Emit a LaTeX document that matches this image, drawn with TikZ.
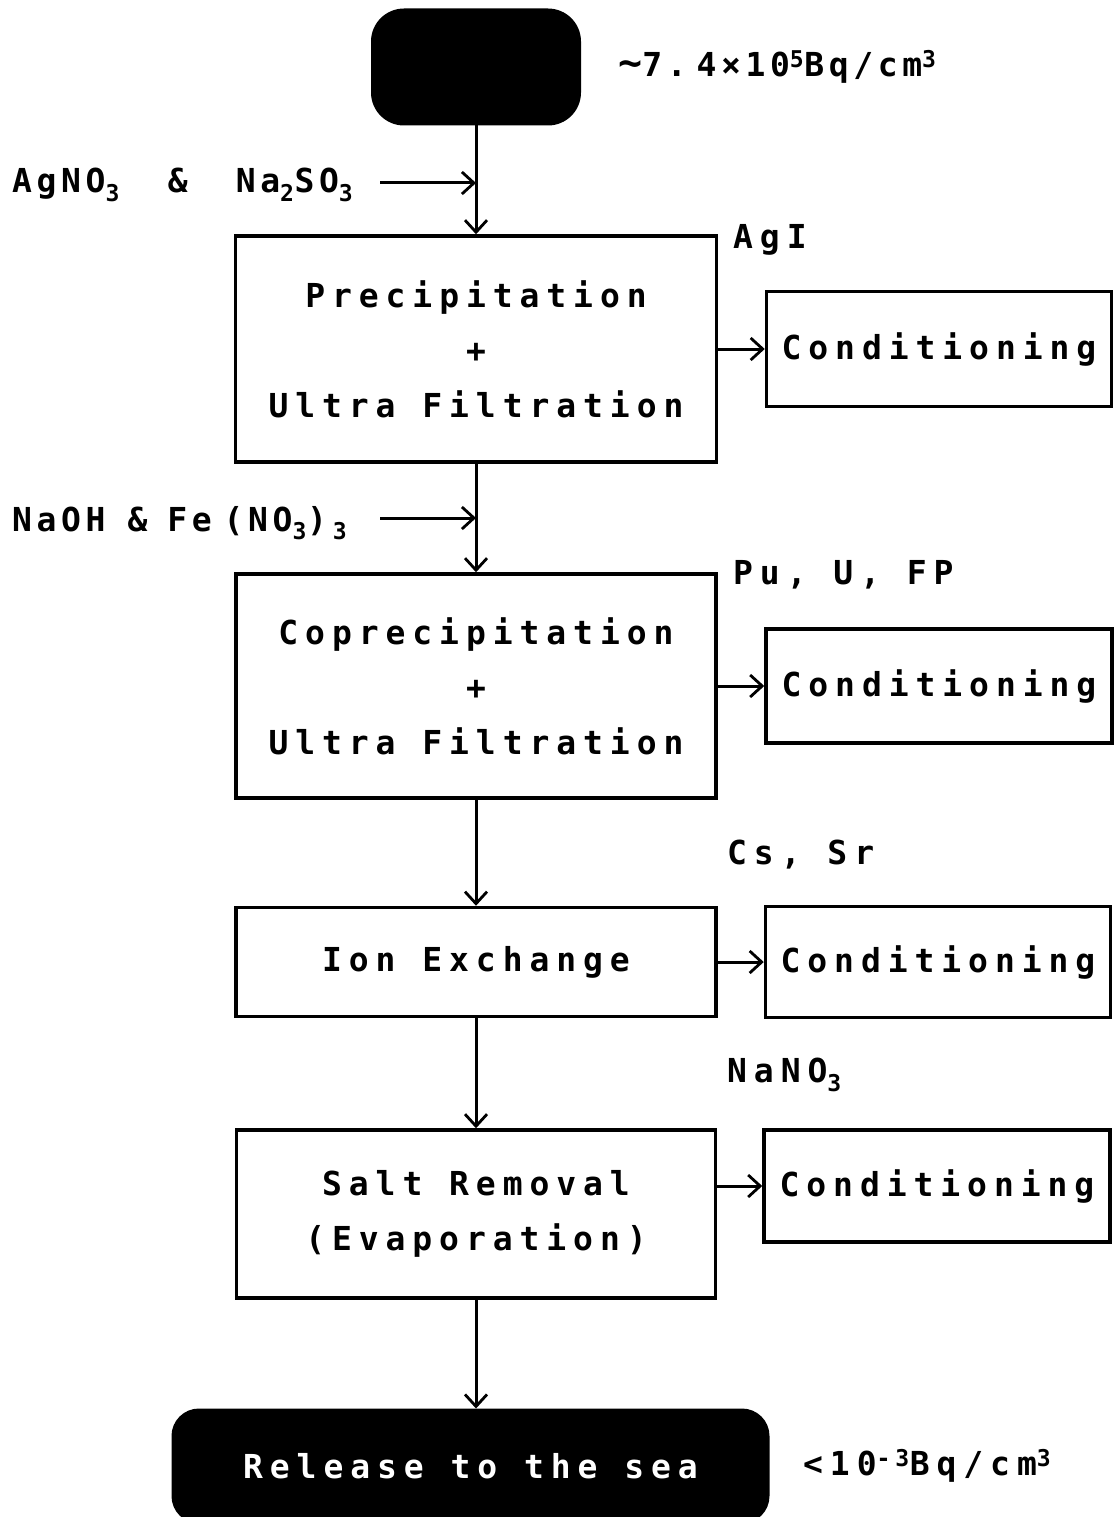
\documentclass[tikz,border=0pt]{standalone}
\usepackage{fontspec}
\usetikzlibrary{arrows.meta}
\newfontfamily\labfont{DejaVu Sans Mono}[LetterSpace=21, BoldFont={DejaVu Sans Mono Bold}]
\newfontfamily\sidefont{DejaVu Sans Mono}[LetterSpace=14, BoldFont={DejaVu Sans Mono Bold}]
\newcommand{\lf}{\labfont\bfseries\fontsize{33}{40}\selectfont}
\newcommand{\sdf}{\sidefont\bfseries\fontsize{33}{40}\selectfont}
\newcommand{\tld}{{\fontsize{40}{40}\selectfont\char"007E}}
\begin{document}
\begin{tikzpicture}[x=1pt,y=-1pt,
  box/.style={draw, line width=3.5pt, inner sep=0pt, align=center, font=\lf},
  lab/.style={anchor=west, inner sep=0pt, font=\lf},
  side/.style={anchor=west, inner sep=0pt, font=\sdf},
  arr/.style={line width=3pt, -{Straight Barb[length=12pt,width=22pt,line width=2.8pt]}}]
\useasboundingbox (0,0) rectangle (1114,1517);
% source
\node[fill=black, draw, line width=2pt, rounded corners=32pt, minimum width=208pt, minimum height=115pt] (src) at (476,67) {};
\node[side] (srcl) at (618,67) {\tld7.\hspace{10pt}4×10\textsuperscript{5}Bq/cm\textsuperscript{3}};
% process boxes
\node[box, minimum width=481pt, minimum height=226pt] (p1) at (476,349) {Precipitation\\[15pt]+\\[15pt]Ultra Filtration};
\node[box, minimum width=480pt, minimum height=224pt] (p2) at (476,686) {Coprecipitation\\[15pt]+\\[15pt]Ultra Filtration};
\node[box, minimum width=480pt, minimum height=109pt] (p3) at (476,962) {Ion Exchange};
\node[box, minimum width=479pt, minimum height=168pt] (p4) at (476,1214) {Salt Removal\\[15pt](Evaporation)};
% conditioning boxes
\node[box, minimum width=345pt, minimum height=115pt] (c1) at (939,349) {Conditioning};
\node[box, minimum width=346pt, minimum height=114pt] (c2) at (939,686) {Conditioning};
\node[box, minimum width=345pt, minimum height=111pt] (c3) at (938,962) {Conditioning};
\node[box, minimum width=346pt, minimum height=112pt] (c4) at (937,1186) {Conditioning};
% release
\node[fill=black, draw, line width=3pt, rounded corners=26pt, minimum width=595pt, minimum height=112pt, text=white, font=\lf, inner sep=0pt] (rel) at (470.5,1466) {Release to the sea};
\node[lab] (rell) at (803,1466) {<10\textsuperscript{-3}Bq/cm\textsuperscript{3}};
% side labels
\node[side] (agno) at (12,185) {AgNO\textsubscript{3}\hspace{48pt}\&\hspace{48pt}Na\textsubscript{2}SO\textsubscript{3}};
\node[side] (naoh) at (12,523) {NaOH\hspace{22pt}\&\hspace{20pt}Fe\hspace{12pt}(NO\textsubscript{3})\hspace{6pt}\textsubscript{3}};
\node[lab] (agi) at (733,240) {AgI};
\node[lab] (puu) at (733,575) {Pu, U, FP};
\node[lab] (cssr) at (727,855) {Cs, Sr};
\node[lab] (nano) at (727,1075) {NaNO\textsubscript{3}};
% junctions
\coordinate (j1) at (476,183);
\coordinate (a1) at (380,183);
\coordinate (j2) at (476,518);
\coordinate (a2) at (380,518);
% main flow
\draw[arr] (src.south) -- (p1.north);
\draw[arr] (p1.south) -- (p2.north);
\draw[arr] (p2.south) -- (p3.north);
\draw[arr] (p3.south) -- (p4.north);
\draw[arr] (p4.south) -- (p4.south |- rel.north);
\draw[arr] (a1) -- (j1);
\draw[arr] (a2) -- (j2);
% to conditioning
\draw[arr] (p1.east) -- (c1.west);
\draw[arr] (p2.east) -- (c2.west);
\draw[arr] (p3.east) -- (c3.west);
\draw[arr] (c4.west -| p4.east) -- (c4.west);
\end{tikzpicture}
\end{document}
